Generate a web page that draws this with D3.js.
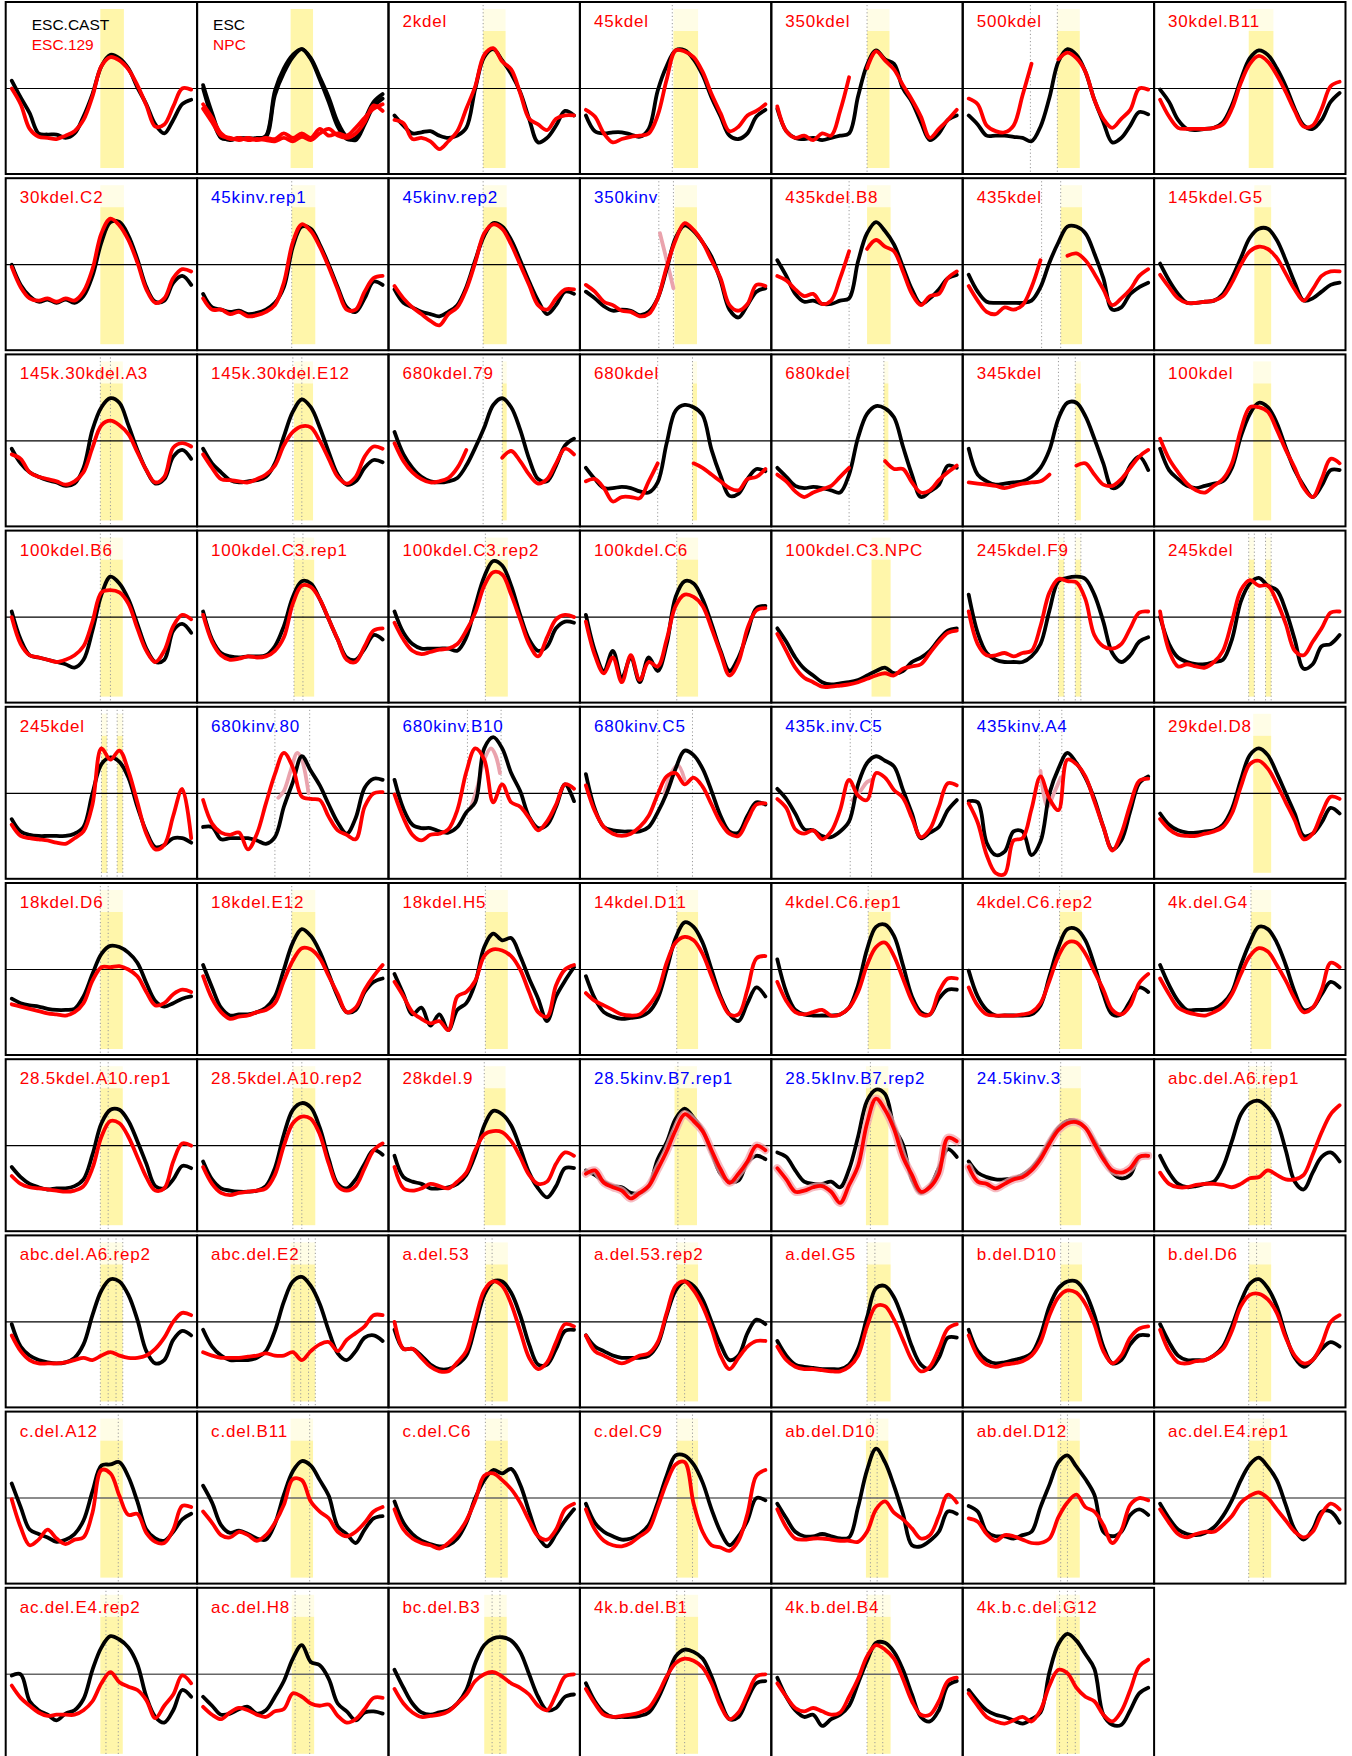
<!DOCTYPE html>
<html>
<head>
<meta charset="utf-8">
<script src="https://cdn.jsdelivr.net/npm/d3@7"></script>
<style>
body { margin: 0; background: #fff; }
</style>
</head>
<body>
<div id="chart"></div>
<script>
// panel titles, read row by row (7 per row)
var titles = [
  "ESC.CAST", "ESC", "2kdel", "45kdel", "350kdel", "500kdel", "30kdel.B11",
  "30kdel.C2", "45kinv.rep1", "45kinv.rep2", "350kinv", "435kdel.B8", "435kdel", "145kdel.G5",
  "145k.30kdel.A3", "145k.30kdel.E12", "680kdel.79", "680kdel", "680kdel", "345kdel", "100kdel",
  "100kdel.B6", "100kdel.C3.rep1", "100kdel.C3.rep2", "100kdel.C6", "100kdel.C3.NPC", "245kdel.F9", "245kdel",
  "245kdel", "680kinv.80", "680kinv.B10", "680kinv.C5", "435k.inv.C5", "435kinv.A4", "29kdel.D8",
  "18kdel.D6", "18kdel.E12", "18kdel.H5", "14kdel.D11", "4kdel.C6.rep1", "4kdel.C6.rep2", "4k.del.G4",
  "28.5kdel.A10.rep1", "28.5kdel.A10.rep2", "28kdel.9", "28.5kinv.B7.rep1", "28.5kInv.B7.rep2", "24.5kinv.3", "abc.del.A6.rep1",
  "abc.del.A6.rep2", "abc.del.E2", "a.del.53", "a.del.53.rep2", "a.del.G5", "b.del.D10", "b.del.D6",
  "c.del.A12", "c.del.B11", "c.del.C6", "c.del.C9", "ab.del.D10", "ab.del.D12", "ac.del.E4.rep1",
  "ac.del.E4.rep2", "ac.del.H8", "bc.del.B3", "4k.b.del.B1", "4k.b.del.B4", "4k.b.c.del.G12"
];

// panels whose title is blue (inversions); the rest are red
var bluePanels = [8, 9, 10, 29, 30, 31, 32, 33, 45, 46, 47];

// two-line legends of the first two panels
var legendLabels = [["ESC.CAST", "ESC.129"], ["ESC", "NPC"]];

// sample positions across each panel
var positions = [0, 8, 16, 24, 32, 40, 48, 56, 64, 72, 80, 88, 96, 104, 112, 120, 128, 136, 144, 152, 160];

// black profile (ESC / CAST reference) per panel
var blackSeries = [
  [7,-8,-22,-40,-41,-41,-44,-40,-25,-5,20,30,27,18,1,-14,-32,-40,-28,-14,-10],
  [3,-22,-42,-46,-44,-45,-44,-43,-6,14,28,35,27,10,-8,-30,-43,-46,-32,-16,-9],
  [-24,-33,-40,-39,-38,-42,-44,-42,-35,0,28,35,25,13,-3,-27,-48,-44,-33,-20,-24],
  [-24,-38,-40,-39,-39,-41,-43,-36,-2,20,34,34,26,12,-8,-25,-42,-45,-40,-25,-19],
  [-18,-38,-44,-45,-44,-46,-44,-42,-40,-7,21,34,26,22,0,-12,-30,-46,-40,-28,-24],
  [-24,-32,-42,-42,-42,-43,-44,-47,-34,-8,24,35,30,15,-10,-30,-48,-44,-33,-21,-23],
  [-1,-12,-28,-36,-37,-36,-35,-30,-15,8,27,34,30,18,2,-18,-33,-36,-28,-12,-4],

  [0,-18,-28,-33,-31,-34,-31,-34,-28,-10,20,38,38,26,5,-20,-33,-32,-16,-10,-18],
  [-26,-38,-40,-42,-41,-44,-43,-40,-34,-20,16,34,32,18,0,-20,-38,-42,-30,-15,-18],
  [-22,-34,-38,-42,-44,-46,-42,-36,-20,4,26,37,34,22,4,-15,-32,-44,-36,-24,-26],
  [-24,-30,-37,-41,-40,-41,-45,-42,-30,-4,24,35,30,20,7,-14,-40,-47,-36,-24,-21],
  [4,-10,-26,-33,-32,-35,-35,-32,-30,3,28,38,30,18,-2,-22,-35,-30,-22,-12,-9],
  [-9,-24,-33,-34,-34,-34,-34,-32,-20,2,20,34,34,28,10,-12,-40,-38,-26,-20,-16],
  [1,-14,-26,-34,-34,-33,-32,-26,-12,6,24,32,32,22,4,-16,-32,-30,-24,-18,-16],

  [-7,-20,-28,-32,-35,-37,-40,-38,-24,10,30,38,34,14,-8,-26,-38,-34,-14,-8,-16],
  [-7,-20,-28,-35,-37,-36,-35,-32,-20,4,26,37,30,12,-10,-30,-39,-36,-24,-17,-19],
  [8,-12,-24,-32,-36,-37,-36,-33,-22,-6,12,32,38,30,10,-16,-34,-36,-22,-4,2],
  [-24,-34,-42,-42,-41,-42,-45,-46,-37,-2,27,32,30,23,-8,-31,-49,-47,-34,-25,-27],
  [-24,-32,-40,-42,-41,-42,-44,-46,-30,3,24,31,29,21,-5,-30,-50,-45,-39,-22,-24],
  [-7,-30,-36,-39,-38,-37,-36,-32,-24,-8,20,34,34,22,2,-20,-42,-38,-22,-14,-26],
  [-7,-26,-34,-40,-42,-40,-38,-36,-24,4,24,34,30,16,-6,-26,-40,-50,-40,-26,-26],

  [5,-20,-34,-36,-38,-40,-42,-45,-38,-12,20,36,30,16,-6,-28,-40,-38,-12,-6,-14],
  [5,-20,-32,-35,-36,-35,-35,-34,-26,-8,18,32,30,16,-2,-20,-36,-38,-28,-16,-20],
  [5,-14,-24,-28,-28,-28,-28,-30,-18,10,36,50,46,28,2,-20,-30,-26,-10,-4,-5],
  [2,-30,-48,-30,-54,-36,-58,-36,-48,-24,18,32,30,16,-6,-30,-48,-36,-14,8,10],
  [-10,-22,-36,-46,-52,-58,-60,-59,-58,-56,-52,-48,-45,-50,-48,-40,-36,-30,-20,-12,-10],
  [20,-14,-32,-38,-40,-40,-40,-35,-24,6,32,35,36,34,20,-4,-32,-40,-34,-22,-18],
  [0,-24,-36,-40,-42,-42,-40,-38,-20,14,30,35,28,24,6,-20,-46,-42,-26,-24,-16],

  [-23,-34,-37,-38,-38,-38,-38,-36,-30,0,26,32,28,14,-12,-34,-48,-46,-40,-40,-44],
  [-30,-30,-41,-40,-40,-40,-42,-45,-39,-12,10,33,20,7,-10,-26,-36,-22,5,13,12],
  [12,-14,-28,-31,-31,-34,-35,-30,-17,-8,40,50,40,18,2,-21,-31,-28,-12,8,-7],
  [17,-14,-30,-33,-34,-34,-34,-30,-17,0,22,38,34,22,2,-20,-34,-35,-20,-8,-10],
  [4,-5,-18,-32,-33,-38,-39,-34,-25,8,27,33,29,24,3,-18,-40,-35,-30,-15,-6],
  [-7,-8,-44,-55,-52,-34,-34,-55,-43,0,22,36,27,14,-5,-30,-50,-42,-16,9,15],
  [-18,-28,-33,-35,-35,-34,-33,-28,-14,12,34,40,34,18,0,-18,-38,-36,-26,-13,-18],

  [-26,-30,-32,-33,-35,-36,-36,-35,-24,-4,14,21,20,15,6,-12,-28,-33,-30,-26,-24],
  [4,-16,-34,-41,-40,-40,-38,-34,-24,0,24,36,30,16,-4,-24,-38,-36,-20,-11,-8],
  [-4,-22,-40,-34,-50,-40,-54,-36,-30,-12,20,32,26,28,12,-8,-26,-46,-24,-10,2],
  [-6,-26,-38,-42,-44,-43,-42,-38,-26,0,28,42,38,24,0,-24,-40,-46,-30,-16,-24],
  [9,-20,-36,-40,-41,-41,-41,-40,-34,-14,18,38,40,30,4,-24,-38,-40,-26,-18,-18],
  [-1,-24,-36,-41,-41,-41,-41,-40,-32,-6,20,36,36,26,4,-22,-40,-40,-28,-16,-20],
  [4,-14,-28,-36,-36,-36,-35,-30,-20,4,24,38,36,24,4,-20,-36,-34,-22,-11,-16],

  [-19,-28,-34,-37,-39,-38,-38,-36,-30,-8,20,32,32,22,4,-16,-36,-38,-30,-18,-20],
  [-14,-30,-38,-40,-41,-41,-40,-36,-20,10,32,38,34,16,-12,-34,-38,-30,-16,-4,-8],
  [-9,-28,-32,-34,-38,-38,-37,-34,-26,-8,18,31,28,18,-2,-24,-38,-46,-36,-20,-20],
  [-22,-26,-32,-36,-37,-42,-42,-36,-12,3,24,33,25,14,-6,-25,-32,-31,-15,-9,-12],
  [-6,-10,-22,-32,-34,-34,-32,-37,-21,8,40,50,46,17,1,-30,-42,-36,-20,-3,-10],
  [-14,-24,-28,-30,-30,-29,-26,-20,-10,4,16,22,22,16,4,-10,-24,-29,-26,-10,-9],
  [-9,-24,-34,-37,-36,-34,-32,-19,4,28,38,40,34,22,-4,-32,-39,-24,-10,-6,-14],

  [-2,-22,-30,-34,-36,-37,-36,-32,-20,6,28,38,36,24,2,-26,-37,-34,-16,-8,-12],
  [-7,-22,-30,-34,-34,-34,-32,-26,-8,18,36,40,32,16,-8,-28,-34,-26,-14,-12,-17],
  [-7,-24,-24,-30,-38,-42,-42,-38,-30,-4,24,36,36,26,6,-20,-38,-38,-24,-8,-7],
  [-12,-22,-26,-30,-32,-32,-32,-30,-20,6,28,36,32,20,0,-20,-34,-30,-10,2,-2],
  [-17,-30,-38,-40,-41,-42,-42,-42,-38,-24,4,30,32,22,2,-22,-38,-42,-32,-14,-14],
  [-7,-26,-34,-37,-36,-34,-32,-28,-12,14,30,36,36,26,6,-22,-37,-34,-20,-12,-12],
  [-2,-18,-30,-34,-34,-34,-30,-22,-4,18,34,38,30,14,-12,-32,-40,-34,-24,-18,-22],

  [13,-8,-28,-32,-35,-39,-37,-32,-20,6,29,30,32,19,-3,-28,-36,-38,-30,-19,-14],
  [11,-4,-24,-31,-29,-32,-36,-37,-23,3,24,33,29,16,2,-25,-32,-40,-28,-18,-16],
  [-3,-22,-32,-38,-41,-43,-42,-36,-22,0,16,25,22,26,12,-12,-34,-43,-32,-20,-10],
  [-5,-22,-30,-34,-37,-36,-32,-24,-4,20,38,38,30,14,-10,-30,-42,-34,-20,0,-2],
  [-5,-18,-30,-34,-34,-32,-34,-36,-35,-8,25,44,32,11,-14,-42,-43,-38,-30,-12,-14],
  [-7,-12,-30,-34,-34,-36,-33,-30,-8,12,32,38,28,17,3,-30,-34,-30,-15,-10,-15],
  [-5,-18,-28,-32,-33,-31,-26,-16,-2,16,30,36,28,16,-6,-28,-37,-28,-12,-12,-22],

  [-1,0,-24,-32,-36,-41,-35,-32,-22,4,24,34,31,24,9,-20,-38,-43,-32,-14,-20],
  [-20,-28,-36,-35,-31,-29,-35,-32,-20,-6,14,26,11,8,-4,-26,-33,-41,-34,-33,-35],
  [4,-12,-26,-34,-36,-34,-32,-26,-14,10,26,32,33,30,20,0,-20,-32,-30,-20,-18],
  [-8,-24,-34,-38,-38,-38,-37,-34,-22,-4,16,22,20,14,-2,-24,-40,-38,-22,-8,-6],
  [-3,-20,-32,-38,-36,-46,-40,-36,-28,-8,12,28,28,20,4,-18,-38,-42,-32,-10,-6],
  [-14,-24,-32,-36,-38,-41,-44,-40,-34,2,27,36,30,18,5,-36,-45,-45,-32,-17,-12]
];

// red profile (129 / NPC / mutant) per panel, null where the region is deleted
var redSeries = [
  [0,-14,-36,-43,-44,-45,-42,-38,-28,-7,20,28,25,17,3,-15,-34,-32,-16,0,-1],
  [-14,-26,-40,-45,-44,-46,-45,-46,-47,-44,-47,-43,-46,-40,-36,-42,-44,-40,-30,-15,-20],
  [-28,-31,-45,-44,-47,-54,-47,-38,-18,2,30,36,24,17,-4,-27,-32,-37,-27,-24,-24],
  [-19,-25,-40,-48,-45,-43,-42,-40,-24,8,34,33,28,15,-5,-22,-38,-34,-24,-20,-14],
  [-16,-38,-44,-42,-46,-40,-42,-20,10,null,18,33,25,17,3,-10,-25,-44,-36,-28,-19],
  [-9,-14,-33,-38,-39,-33,-6,22,null,null,26,32,27,15,-10,-27,-35,-27,-19,0,-1],
  [-10,-25,-35,-36,-36,-36,-35,-32,-18,5,22,29,24,12,-3,-20,-34,-33,-18,2,6],

  [-2,-20,-30,-32,-30,-33,-30,-32,-24,-4,28,41,35,22,2,-22,-34,-30,-12,-4,-6],
  [-30,-40,-40,-44,-42,-46,-45,-42,-36,-16,20,36,30,16,-2,-22,-40,-40,-24,-12,-10],
  [-19,-30,-38,-44,-50,-54,-44,-38,-22,2,28,36,32,18,0,-18,-36,-40,-30,-22,-22],
  [-18,-24,-33,-36,-41,-42,-46,-44,-30,-2,22,37,31,20,4,-12,-36,-41,-35,-18,-19],
  [-10,-14,-22,-28,-26,-35,-32,-12,12,null,14,22,16,12,-6,-26,-36,-28,-26,-12,-6],
  [-19,-32,-42,-44,-38,-40,-36,-20,4,null,null,8,10,4,-8,-22,-36,-30,-22,-10,-4],
  [-9,-20,-30,-34,-34,-33,-32,-28,-16,0,12,16,14,6,-8,-22,-32,-22,-10,-6,-6],

  [-12,-16,-28,-32,-34,-36,-39,-36,-28,-6,14,18,14,6,-10,-26,-37,-32,-6,-2,-5],
  [-12,-24,-34,-35,-36,-37,-34,-30,-22,-4,8,13,12,0,-16,-32,-38,-32,-14,-5,-7],
  [-2,-18,-28,-34,-37,-36,-33,-24,-8,null,null,null,-15,-9,-18,-30,-38,-34,-20,-7,-12],
  [-36,-34,-42,-54,-50,-50,-51,-36,-20,null,null,null,-20,-24,-30,-36,-42,-44,-34,-32,-25],
  [-30,-36,-45,-50,-46,-43,-40,-32,-24,null,null,null,-18,-25,-25,-37,-46,-44,-35,-28,-22],
  [-37,-38,-39,-40,-42,-40,-38,-37,-36,-30,null,null,-22,-20,-30,-39,-40,-34,-24,-14,-8],
  [2,-16,-28,-38,-44,-46,-40,-34,-20,10,30,30,26,10,-8,-24,-42,-50,-34,-16,-20],

  [0,-24,-34,-36,-38,-40,-38,-34,-26,-4,22,24,22,12,-10,-30,-40,-30,-8,2,-2],
  [2,-22,-34,-38,-37,-35,-36,-35,-30,-18,12,28,27,16,-2,-20,-38,-40,-26,-12,-10],
  [-5,-20,-30,-33,-31,-29,-28,-24,-12,4,28,40,38,20,-2,-24,-35,-18,-2,2,0],
  [-4,-34,-50,-36,-58,-34,-56,-40,-44,-20,10,20,18,10,-10,-32,-52,-40,-10,6,8],
  [-15,-30,-45,-54,-58,-62,-62,-61,-60,-58,-55,-52,-50,-52,-46,-44,-42,-32,-22,-14,-12],
  [5,-24,-34,-34,-32,-35,-32,-30,-8,22,34,32,31,16,-16,-26,-28,-24,-10,4,5],
  [5,-30,-44,-42,-44,-45,-40,-30,-4,24,33,28,28,14,-6,-30,-34,-22,-10,4,5],

  [-28,-38,-40,-41,-42,-44,-45,-40,-34,-10,40,30,38,20,-8,-36,-50,-46,-20,4,-40],
  [-6,-27,-35,-37,-35,-50,-36,-9,17,36,23,-3,-5,-6,-21,-33,-37,-41,-12,0,1],
  [-1,-22,-37,-42,-37,-36,-32,-15,19,40,30,-8,8,-8,-12,-22,-33,-25,-10,8,4],
  [7,-16,-30,-36,-38,-36,-30,-20,-1,15,18,8,14,6,-10,-26,-36,-38,-24,-10,-9],
  [-5,-13,-32,-36,-33,-41,-34,-15,12,-2,-6,18,14,3,-4,-22,-39,-32,-12,9,7],
  [-9,-26,-55,-71,-72,-42,-40,-14,15,-5,-15,30,26,15,-7,-30,-51,-36,-10,11,13],
  [-23,-32,-37,-38,-38,-36,-34,-30,-18,6,26,29,22,8,-8,-24,-41,-36,-18,-3,-5],

  [-31,-33,-35,-37,-39,-40,-41,-38,-30,-10,2,2,3,0,-6,-20,-32,-30,-22,-18,-20],
  [-6,-26,-38,-44,-42,-41,-38,-36,-30,-10,8,19,18,10,-6,-22,-38,-34,-18,-6,4],
  [-11,-24,-38,-44,-48,-46,-54,-24,-20,-10,12,18,17,12,0,-20,-38,-42,-14,0,4],
  [-21,-28,-32,-36,-40,-41,-40,-32,-20,6,24,29,26,14,-6,-26,-40,-40,-18,10,12],
  [-11,-28,-38,-40,-38,-36,-41,-40,-34,-20,4,20,24,12,-8,-28,-40,-40,-20,-8,-8],
  [-16,-32,-40,-41,-41,-41,-40,-38,-30,-10,12,24,24,14,-2,-18,-36,-40,-32,-12,-4],
  [-8,-22,-34,-38,-40,-41,-38,-33,-22,-4,12,19,16,4,-10,-26,-38,-34,-18,6,2],

  [-27,-34,-37,-38,-39,-40,-41,-40,-36,-20,8,22,20,8,-10,-28,-40,-38,-14,2,0],
  [-19,-34,-42,-44,-42,-41,-40,-38,-26,0,20,26,24,10,-16,-36,-40,-36,-20,-4,2],
  [-19,-38,-40,-38,-34,-36,-38,-32,-24,-4,10,13,12,4,-10,-26,-34,-32,-16,-6,-9],
  [-25,-22,-33,-37,-40,-47,-42,-36,-21,-5,14,28,22,13,-4,-21,-33,-25,-14,0,-4],
  [-20,-30,-41,-40,-37,-36,-41,-51,-35,-18,20,42,32,15,-10,-26,-41,-37,-25,7,4],
  [-19,-32,-34,-38,-34,-30,-28,-22,-12,2,14,20,21,16,2,-12,-22,-24,-20,-10,-9],
  [-24,-34,-37,-37,-35,-34,-34,-35,-37,-34,-29,-28,-22,-26,-30,-30,-26,-8,12,28,36],

  [-12,-26,-34,-37,-37,-37,-36,-34,-32,-34,-30,-27,-30,-32,-32,-30,-24,-14,0,8,6],
  [-27,-30,-32,-32,-32,-31,-30,-28,-30,-30,-27,-34,-26,-20,-18,-26,-16,-10,-4,6,6],
  [0,-24,-24,-32,-40,-44,-44,-36,-26,2,28,36,32,16,-8,-32,-42,-36,-18,-2,-4],
  [-12,-26,-30,-34,-37,-34,-30,-28,-18,8,32,36,28,14,-6,-30,-42,-32,-22,-17,-17],
  [-22,-34,-40,-42,-42,-43,-44,-44,-40,-30,-4,14,14,2,-16,-34,-44,-40,-24,-6,-2],
  [-12,-30,-38,-40,-38,-37,-35,-30,-18,6,22,28,26,16,-2,-26,-37,-30,-14,-6,-4],
  [-7,-26,-36,-37,-35,-34,-30,-24,-8,14,24,25,20,8,-14,-30,-37,-34,-20,0,6],

  [-1,-26,-42,-37,-28,-36,-41,-37,-35,-13,25,22,2,-15,-14,-31,-39,-40,-28,-7,-8],
  [-12,-22,-33,-35,-30,-33,-38,-33,-22,-6,17,16,-3,-12,-18,-30,-34,-30,-22,-12,-8],
  [-10,-28,-36,-40,-42,-45,-40,-32,-20,-2,20,22,16,8,-4,-20,-34,-37,-28,-10,-5],
  [-10,-28,-38,-42,-43,-40,-34,-28,-8,14,30,32,-5,-30,-42,-44,-47,-38,-14,20,25],
  [-10,-26,-36,-37,-36,-36,-37,-38,-38,-39,-30,-10,-3,-13,-19,-27,-36,-33,-16,3,-4],
  [-18,-21,-32,-38,-33,-34,-37,-40,-40,-36,-17,-4,3,-8,-12,-24,-40,-29,-6,0,-2],
  [-10,-22,-32,-35,-32,-30,-30,-24,-16,-4,2,5,0,-10,-20,-30,-35,-30,-14,-5,-10],

  [-10,-21,-28,-34,-37,-36,-36,-36,-32,-24,-8,2,-7,-11,-14,-23,-39,-28,-18,-1,-8],
  [-29,-36,-40,-34,-30,-32,-36,-38,-33,-31,-17,-20,-26,-28,-27,-37,-43,-40,-31,-21,-21],
  [-13,-26,-34,-38,-37,-36,-33,-26,-18,-6,0,2,-2,-8,-12,-18,-28,-32,-18,-2,0],
  [-13,-26,-36,-38,-37,-36,-34,-30,-18,-2,10,14,12,6,-8,-28,-40,-34,-18,-2,0],
  [-8,-20,-30,-33,-30,-33,-36,-34,-20,-4,16,26,22,14,-4,-24,-36,-36,-24,-6,-3],
  [-17,-28,-38,-42,-44,-41,-38,-42,-32,-10,4,1,-12,-20,-24,-36,-42,-33,-14,7,13]
];

// second replicate of the ESC / NPC panel
var repPanel = 1;
var blackRep = [0,-26,-44,-45,-45,-44,-45,-42,-2,18,30,35,26,8,-12,-34,-45,-44,-28,-12,-5];
var redRep = [-18,-30,-42,-44,-46,-44,-46,-44,-45,-40,-44,-40,-44,-36,-42,-40,-42,-35,-26,-18,-14];

// highlighted (yellow) ranges per panel
var bands = [
  [[79,100]], [[78,98]], [[79,99]], [[78,100]], [[80,100]], [[79,99]], [[79,101]],
  [[79,100]], [[79,100]], [[79,100]], [[79,99]], [[80,101]], [[82,101]], [[84,99]],
  [[79,99]], [[81,98]], [[96,100]], [[95,99]], [[95,99]], [[95,100]], [[83,99]],
  [[79,99]], [[81,99]], [[81,101]], [[81,100]], [[84,101]], [[80,85],[95,100]], [[79,84],[94,99]],
  [[80,85],[94,99]], [], [], [], [], [], [[83,99]],
  [[79,99]], [[79,100]], [[81,101]], [[81,100]], [[81,101]], [[81,101]], [[81,99]],
  [[79,99]], [[80,100]], [[80,99]], [[79,99]], [[79,99]], [[81,100]], [[79,99]],
  [[79,99]], [[78,100]], [[81,101]], [[81,100]], [[80,101]], [[82,101]], [[79,99]],
  [[79,99]], [[78,98]], [[81,101]], [[81,100]], [[79,99]], [[79,99]], [[79,99]],
  [[79,99]], [[79,99]], [[80,100]], [[80,100]], [[80,101]], [[78,99]]
];

// gray dotted guide positions per panel
var dotted = [
  [], [], [79], [77], [80], [55,79], [],
  [], [79], [79], [65,78], [64], [65,82], [],
  [79,88], [80,88], [79,96], [64,95], [64,95], [80,95], [],
  [79,88], [81,89], [81], [81], [], [80,85,95,100], [79,84,94,99],
  [80,85,94,99], [64,95], [65,95], [64,95], [65,84], [63,83], [],
  [79,86], [79], [81], [81], [81], [81], [81],
  [79,86], [80,88], [80], [82], [83], [82], [79,86,93,99],
  [79,86,93,99], [81,87,94,100], [81,87], [81,88], [80,87], [82,89], [79,86],
  [95], [95], [81,95], [81,95], [83,89], [82,88], [79,92],
  [84,95], [82,95], [87,94], [81,88], [80,87,94], [81,88,95]
];

// faded segments inside the inverted region
var pinkPanels = [10, 29, 30, 31, 32, 33];
var pinkPositions = [[66,72,78], [67,72,78,84,88,94], [68,74,80,86,90,94], [70,76,82,88], [67,74,80,84], [64,70,76,82]];
var pinkValues = [[28,4,-21], [-4,2,20,36,30,0], [-13,6,30,40,34,18], [0,18,25,12], [-6,2,10,12], [20,-12,0,14]];

// panels where the red profile has a soft halo
var glowPanels = [45, 46, 47];

var W = 1352, H = 1756;
var nCols = 7, colW = 191.4, rowH = 176.2, boxH = 172;
var originX = 5.7, originY = 2;

var svg = d3.select("#chart").append("svg")
    .attr("width", W)
    .attr("height", H)
    .style("font-family", "'Liberation Sans', Arial, Helvetica, sans-serif");

svg.append("rect").attr("width", W).attr("height", H).attr("fill", "#fff");

var x = d3.scaleLinear().domain([0, 160]).range([6, 185.5]);
var y = d3.scaleLinear().domain([-71, 71]).range([86.5 + 79.7, 86.5 - 79.7]);

var line = d3.line()
    .defined(function (d) { return d[1] != null; })
    .x(function (d) { return x(d[0]); })
    .y(function (d) { return y(d[1]); })
    .curve(d3.curveCatmullRom.alpha(0.5));

function pairs(vals) {
  return positions.map(function (p, i) { return [p, vals[i]]; });
}

var lw = 3.8;

titles.forEach(function (title, i) {
  var c = i % nCols, r = Math.floor(i / nCols);
  var g = svg.append("g")
      .attr("transform", "translate(" + (originX + c * colW) + "," + (originY + r * rowH) + ")");

  // yellow highlight, pale where the title box covers it
  bands[i].forEach(function (b) {
    var bx = x(b[0]), bw = x(b[1]) - x(b[0]);
    if (i < 2) {
      g.append("rect").attr("x", bx).attr("y", 7).attr("width", bw).attr("height", 159).attr("fill", "#fff6aa");
    } else {
      g.append("rect").attr("x", bx).attr("y", 7).attr("width", bw).attr("height", 22).attr("fill", "#fffde6");
      g.append("rect").attr("x", bx).attr("y", 29).attr("width", bw).attr("height", 137).attr("fill", "#fff6aa");
    }
  });

  dotted[i].forEach(function (p) {
    g.append("line")
        .attr("x1", x(p)).attr("x2", x(p))
        .attr("y1", 3).attr("y2", boxH - 1)
        .attr("stroke", "#9a9a9a")
        .attr("stroke-width", 1)
        .attr("stroke-dasharray", "1.2,2.4");
  });

  // zero line
  g.append("line")
      .attr("x1", 0).attr("x2", colW)
      .attr("y1", y(0)).attr("y2", y(0))
      .attr("stroke", i >= 56 ? "#666" : "#000")
      .attr("stroke-width", i >= 56 ? 1.5 : 1.2);

  var k = pinkPanels.indexOf(i);
  if (k >= 0) {
    g.append("path")
        .datum(pinkPositions[k].map(function (p, j) { return [p, pinkValues[k][j]]; }))
        .attr("d", line)
        .attr("fill", "none")
        .attr("stroke", "#eaa3ad")
        .attr("stroke-width", lw)
        .attr("stroke-linecap", "round");
  }

  var blacks = [blackSeries[i]], reds = [redSeries[i]];
  if (i === repPanel) { blacks.push(blackRep); reds.push(redRep); }

  blacks.forEach(function (s) {
    g.append("path")
        .datum(pairs(s))
        .attr("d", line)
        .attr("fill", "none")
        .attr("stroke", "#000")
        .attr("stroke-width", lw)
        .attr("stroke-linejoin", "round")
        .attr("stroke-linecap", "round");
  });

  if (glowPanels.indexOf(i) >= 0) {
    g.append("path")
        .datum(pairs(redSeries[i]))
        .attr("d", line)
        .attr("fill", "none")
        .attr("stroke", "#f3a6ae")
        .attr("stroke-opacity", 0.75)
        .attr("stroke-width", 8)
        .attr("stroke-linejoin", "round")
        .attr("stroke-linecap", "round");
  }

  reds.forEach(function (s) {
    g.append("path")
        .datum(pairs(s))
        .attr("d", line)
        .attr("fill", "none")
        .attr("stroke", "#ff0000")
        .attr("stroke-width", lw)
        .attr("stroke-linejoin", "round")
        .attr("stroke-linecap", "round");
  });

  if (i < 2) {
    var lx = i === 0 ? 26 : 16;
    g.append("text").attr("x", lx).attr("y", 28).attr("font-size", 15.5)
        .attr("fill", "#000").text(legendLabels[i][0]);
    g.append("text").attr("x", lx).attr("y", 47.5).attr("font-size", 15.5)
        .attr("fill", "#ff0000").text(legendLabels[i][1]);
  } else {
    g.append("text")
        .attr("x", 14).attr("y", 25)
        .attr("font-size", 17)
        .attr("letter-spacing", 0.8)
        .attr("fill", bluePanels.indexOf(i) >= 0 ? "#0000ff" : "#ff0000")
        .text(title);
  }

  g.append("rect")
      .attr("x", 0).attr("y", 0)
      .attr("width", colW).attr("height", boxH)
      .attr("fill", "none")
      .attr("stroke", "#000")
      .attr("stroke-width", 2);
});
</script>
</body>
</html>
